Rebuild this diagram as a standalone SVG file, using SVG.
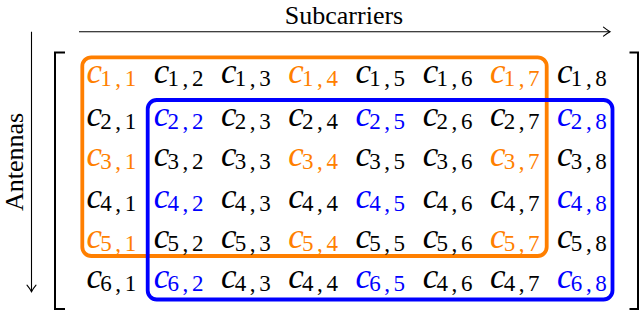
<svg xmlns="http://www.w3.org/2000/svg" width="640" height="311" viewBox="0 0 640 311">
<defs>
<marker id="arr" viewBox="-8 -6 10 12" markerWidth="10" markerHeight="12" refX="0" refY="0" orient="auto" markerUnits="userSpaceOnUse">
<path d="M-6.5,-4.5 Q-2.5,-1.2 0,0 Q-2.5,1.2 -6.5,4.5" fill="none" stroke="#000" stroke-width="1.1" stroke-linecap="round"/>
</marker>
<style>
text{font-family:'Liberation Serif','Times New Roman','DejaVu Serif',serif}
.lbl{font-size:26px;fill:#000}
.m{font-size:35px;font-style:italic;fill:#000}
.s{font-size:23px;font-style:normal;letter-spacing:3.6px}
.o{fill:#FF7F00}
.b{fill:#0000FF}
.ax{stroke:#000;stroke-width:1.1;fill:none}
.br{stroke:#000;stroke-width:2;fill:none}
</style>
</defs>
<rect width="640" height="311" fill="#fff"/>
<g id="connectors">
<line class="ax" x1="79" y1="31.7" x2="610" y2="31.7" marker-end="url(#arr)"/>
<line class="ax" x1="31.5" y1="31.7" x2="31.5" y2="291.7" marker-end="url(#arr)"/>
</g>
<g id="labels">
<text class="lbl" x="344" y="23.5" text-anchor="middle">Subcarriers</text>
<text class="lbl" transform="translate(22.5,162) rotate(-90)" text-anchor="middle">Antennas</text>
</g>
<g id="brackets">
<path class="br" d="M65,52.5 H55 V309 H65"/>
<path class="br" d="M629.5,52.5 H638 V309 H629.5"/>
</g>
<g id="orange-box">
<rect x="82.3" y="57.3" width="464.4" height="198.7" rx="9" fill="none" stroke="#FF7F00" stroke-width="3.8"/>
</g>
<g id="blue-box">
<rect x="147.7" y="100" width="464.8" height="199.5" rx="9" fill="none" stroke="#0000FF" stroke-width="3.8"/>
</g>
<g id="matrix">
<g id="row1">
<text class="m o" x="86.5" y="83">c<tspan class="s" dx="-1.8" dy="3">1,1</tspan></text>
<text class="m" x="153.7" y="83">c<tspan class="s" dx="-1.8" dy="3">1,2</tspan></text>
<text class="m" x="221" y="83">c<tspan class="s" dx="-1.8" dy="3">1,3</tspan></text>
<text class="m o" x="288.2" y="83">c<tspan class="s" dx="-1.8" dy="3">1,4</tspan></text>
<text class="m" x="355.4" y="83">c<tspan class="s" dx="-1.8" dy="3">1,5</tspan></text>
<text class="m" x="422.7" y="83">c<tspan class="s" dx="-1.8" dy="3">1,6</tspan></text>
<text class="m o" x="489.9" y="83">c<tspan class="s" dx="-1.8" dy="3">1,7</tspan></text>
<text class="m" x="557.1" y="83">c<tspan class="s" dx="-1.8" dy="3">1,8</tspan></text>
</g>
<g id="row2">
<text class="m" x="86.5" y="125.5">c<tspan class="s" dx="-1.8" dy="3">2,1</tspan></text>
<text class="m b" x="153.7" y="125.5">c<tspan class="s" dx="-1.8" dy="3">2,2</tspan></text>
<text class="m" x="221" y="125.5">c<tspan class="s" dx="-1.8" dy="3">2,3</tspan></text>
<text class="m" x="288.2" y="125.5">c<tspan class="s" dx="-1.8" dy="3">2,4</tspan></text>
<text class="m b" x="355.4" y="125.5">c<tspan class="s" dx="-1.8" dy="3">2,5</tspan></text>
<text class="m" x="422.7" y="125.5">c<tspan class="s" dx="-1.8" dy="3">2,6</tspan></text>
<text class="m" x="489.9" y="125.5">c<tspan class="s" dx="-1.8" dy="3">2,7</tspan></text>
<text class="m b" x="557.1" y="125.5">c<tspan class="s" dx="-1.8" dy="3">2,8</tspan></text>
</g>
<g id="row3">
<text class="m o" x="86.5" y="166">c<tspan class="s" dx="-1.8" dy="3">3,1</tspan></text>
<text class="m" x="153.7" y="166">c<tspan class="s" dx="-1.8" dy="3">3,2</tspan></text>
<text class="m" x="221" y="166">c<tspan class="s" dx="-1.8" dy="3">3,3</tspan></text>
<text class="m o" x="288.2" y="166">c<tspan class="s" dx="-1.8" dy="3">3,4</tspan></text>
<text class="m" x="355.4" y="166">c<tspan class="s" dx="-1.8" dy="3">3,5</tspan></text>
<text class="m" x="422.7" y="166">c<tspan class="s" dx="-1.8" dy="3">3,6</tspan></text>
<text class="m o" x="489.9" y="166">c<tspan class="s" dx="-1.8" dy="3">3,7</tspan></text>
<text class="m" x="557.1" y="166">c<tspan class="s" dx="-1.8" dy="3">3,8</tspan></text>
</g>
<g id="row4">
<text class="m" x="86.5" y="207.5">c<tspan class="s" dx="-1.8" dy="3">4,1</tspan></text>
<text class="m b" x="153.7" y="207.5">c<tspan class="s" dx="-1.8" dy="3">4,2</tspan></text>
<text class="m" x="221" y="207.5">c<tspan class="s" dx="-1.8" dy="3">4,3</tspan></text>
<text class="m" x="288.2" y="207.5">c<tspan class="s" dx="-1.8" dy="3">4,4</tspan></text>
<text class="m b" x="355.4" y="207.5">c<tspan class="s" dx="-1.8" dy="3">4,5</tspan></text>
<text class="m" x="422.7" y="207.5">c<tspan class="s" dx="-1.8" dy="3">4,6</tspan></text>
<text class="m" x="489.9" y="207.5">c<tspan class="s" dx="-1.8" dy="3">4,7</tspan></text>
<text class="m b" x="557.1" y="207.5">c<tspan class="s" dx="-1.8" dy="3">4,8</tspan></text>
</g>
<g id="row5">
<text class="m o" x="86.5" y="247.5">c<tspan class="s" dx="-1.8" dy="3">5,1</tspan></text>
<text class="m" x="153.7" y="247.5">c<tspan class="s" dx="-1.8" dy="3">5,2</tspan></text>
<text class="m" x="221" y="247.5">c<tspan class="s" dx="-1.8" dy="3">5,3</tspan></text>
<text class="m o" x="288.2" y="247.5">c<tspan class="s" dx="-1.8" dy="3">5,4</tspan></text>
<text class="m" x="355.4" y="247.5">c<tspan class="s" dx="-1.8" dy="3">5,5</tspan></text>
<text class="m" x="422.7" y="247.5">c<tspan class="s" dx="-1.8" dy="3">5,6</tspan></text>
<text class="m o" x="489.9" y="247.5">c<tspan class="s" dx="-1.8" dy="3">5,7</tspan></text>
<text class="m" x="557.1" y="247.5">c<tspan class="s" dx="-1.8" dy="3">5,8</tspan></text>
</g>
<g id="row6">
<text class="m" x="86.5" y="287.5">c<tspan class="s" dx="-1.8" dy="3">6,1</tspan></text>
<text class="m b" x="153.7" y="287.5">c<tspan class="s" dx="-1.8" dy="3">6,2</tspan></text>
<text class="m" x="221" y="287.5">c<tspan class="s" dx="-1.8" dy="3">4,3</tspan></text>
<text class="m" x="288.2" y="287.5">c<tspan class="s" dx="-1.8" dy="3">4,4</tspan></text>
<text class="m b" x="355.4" y="287.5">c<tspan class="s" dx="-1.8" dy="3">6,5</tspan></text>
<text class="m" x="422.7" y="287.5">c<tspan class="s" dx="-1.8" dy="3">4,6</tspan></text>
<text class="m" x="489.9" y="287.5">c<tspan class="s" dx="-1.8" dy="3">4,7</tspan></text>
<text class="m b" x="557.1" y="287.5">c<tspan class="s" dx="-1.8" dy="3">6,8</tspan></text>
</g>
</g>
</svg>
